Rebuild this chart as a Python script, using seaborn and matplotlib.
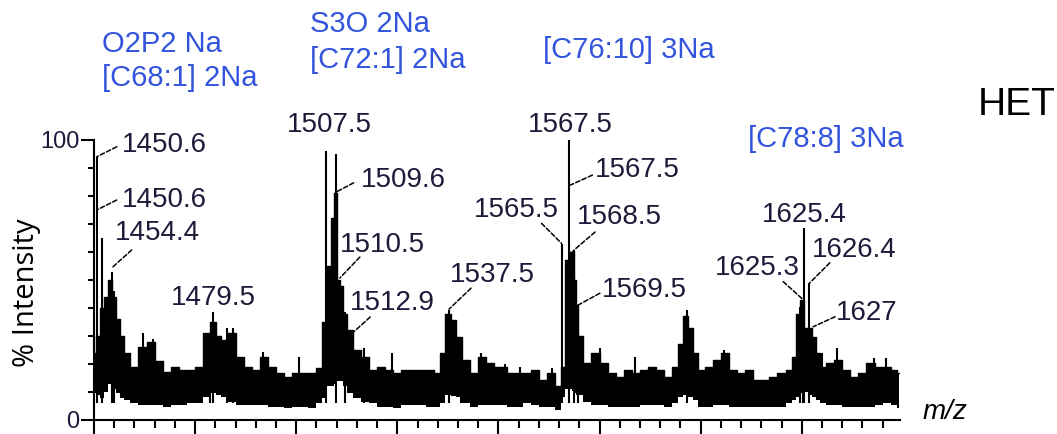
import numpy as np
import matplotlib
matplotlib.use("Agg")
import matplotlib.pyplot as plt
import seaborn as sns

# spectrum envelope (% intensity)
mz = [1450.0, 1451.0, 1452.0, 1453.0, 1454.0, 1455.0, 1456.0, 1457.0, 1458.0, 1460.0,
      1462.0, 1464.0, 1466.0, 1468.0, 1470.0, 1472.0, 1474.0, 1476.0, 1478.0, 1479.5,
      1481.0, 1482.0, 1484.0, 1486.0, 1488.0, 1490.0, 1492.0, 1494.0, 1496.0, 1498.0,
      1500.0, 1502.0, 1504.0, 1506.0, 1507.0, 1508.0, 1509.0, 1509.6, 1510.5, 1511.0,
      1512.0, 1513.0, 1515.0, 1517.0, 1519.0, 1521.0, 1523.0, 1525.0, 1527.0, 1529.0,
      1531.0, 1533.0, 1535.0, 1536.0, 1537.5, 1539.0, 1540.0, 1542.0, 1544.0, 1546.0,
      1548.0, 1550.0, 1551.0, 1553.0, 1555.0, 1557.0, 1559.0, 1561.0, 1563.0, 1565.0,
      1566.0, 1567.0, 1568.0, 1568.5, 1569.0, 1569.5, 1570.0, 1572.0, 1574.0, 1576.0,
      1578.0, 1580.0, 1582.0, 1584.0, 1586.0, 1588.0, 1590.0, 1592.0, 1594.0, 1595.0,
      1596.5, 1597.5, 1598.5, 1600.0, 1602.0, 1604.0, 1606.0, 1608.0, 1610.0, 1612.0,
      1614.0, 1616.0, 1618.0, 1620.0, 1622.0, 1623.0, 1624.0, 1625.0, 1626.0, 1627.0,
      1628.0, 1629.0, 1630.0, 1632.0, 1634.0, 1636.0, 1638.0, 1640.0, 1642.0, 1644.0,
      1646.0, 1648.0, 1649.0]
upper = [24, 30, 40, 44, 50, 44, 36, 30, 24, 19,
         26, 28, 21, 17, 19, 18, 18, 19, 31, 35,
         30, 28.6, 31, 22.6, 19, 18, 22.6, 19, 16.7, 15.5,
         16.7, 16.7, 16.7, 18.5, 35, 55, 72, 81, 50, 48,
         38, 32, 25, 22.6, 18, 19, 18, 16.7, 18, 18,
         18, 18, 16.7, 24, 38, 35.7, 29.8, 21.4, 16.7, 22.6,
         20.2, 19, 19, 16.7, 16.7, 16.7, 18, 14.3, 16.7, 12,
         19, 57, 60, 60.5, 50, 41, 30, 20.2, 23.8, 20.2,
         16.7, 15.5, 18, 16.7, 18, 19, 18, 15.5, 19, 27,
         37, 33, 23.8, 17.9, 19, 21.4, 23.8, 17.9, 16.7, 17.9,
         14.3, 14.3, 15.5, 16.7, 17.9, 22.6, 38, 43, 33, 33,
         29.8, 23.8, 19, 20.2, 21.4, 17.9, 15.5, 16.7, 20.2, 19,
         19, 17.9, 16.7]
lower = [9.5, 9, 8, 10, 13, 11, 9.5, 8, 7, 6,
         5.4, 5.4, 5.4, 4.8, 5.4, 5.4, 6, 6, 8.3, 9.5,
         9, 8.3, 6.5, 5.4, 5.4, 5.4, 5.4, 4.8, 4.8, 4.2,
         4.8, 4.8, 4.2, 6, 8, 12, 12, 13, 14, 14,
         12, 9.5, 7.7, 6.5, 6, 4.8, 4.8, 4.2, 5.4, 5.4,
         5.4, 4.8, 4.8, 6, 9, 8.5, 8.3, 6, 4.8, 5.4,
         5.4, 5.4, 5.4, 4.8, 4.8, 6, 5.4, 4.8, 4.8, 3.6,
         8.3, 11, 11, 10.5, 9.5, 9, 8.9, 6.5, 5.4, 5.4,
         4.8, 4.8, 4.8, 4.8, 5.4, 5.4, 5.4, 4.8, 6, 8.3,
         8.9, 8.3, 7.1, 4.8, 4.8, 5.4, 5.4, 4.8, 4.8, 4.8,
         4.8, 4.8, 4.8, 4.8, 6, 7.1, 8.3, 9.5, 10, 9,
         8.3, 7.1, 6, 5.4, 5.4, 4.8, 4.8, 4.8, 4.8, 5.4,
         6, 5.4, 4.2]

# thin spikes
stick_mz = [1450.67, 1452.0, 1454.4, 1455.0, 1462.2, 1464.5, 1478.6, 1479.4, 1482.8, 1484.4,
            1491.7, 1500.75, 1507.36, 1509.83, 1512.0, 1516.8, 1523.7, 1537.7, 1540.8, 1545.8,
            1551.7, 1555.45, 1563.3, 1565.6, 1567.5, 1568.7, 1569.65, 1575.1, 1583.75, 1596.7,
            1605.9, 1624.5, 1625.35, 1625.6, 1626.8, 1630.0, 1633.7, 1642.9, 1645.8]
stick_height = [94, 65, 53, 46, 31, 29, 31, 38.7, 33, 32.7,
                24.4, 22.6, 96, 95, 38.7, 25.6, 23.8, 39.3, 28.6, 23.8,
                20, 19, 18.5, 63, 100, 60.7, 41, 25.6, 22.6, 39.3,
                25, 40.5, 43, 68.5, 48.8, 23.8, 25.6, 22, 22]

# peak labels: text, m/z and height of the point they mark
peak_text = ["1450.6", "1450.6", "1454.4", "1479.5", "1507.5", "1509.6", "1510.5",
             "1512.9", "1537.5", "1565.5", "1567.5", "1567.5", "1568.5", "1569.5",
             "1625.4", "1625.3", "1626.4", "1627"]
peak_mz = [1450.67, 1450.67, 1454.38, 1479.4, 1507.36, 1510.0, 1510.8,
           1513.1, 1537.8, 1565.6, 1567.5, 1567.8, 1568.7, 1569.65,
           1625.6, 1625.35, 1627.0, 1627.8]
peak_pct = [94, 75, 54.3, 38.7, 96, 81.5, 50.7,
            30, 39.6, 63.1, 100, 83.9, 60.7, 41,
            68.5, 43, 49, 33.3]

# layout of the labels (pixels): leader line end, text offset, alignment
lead = [(20, 10), (20, 10), (20, 18), None, None, (17, 9), (20, 21),
        (21, 19), (22, 21), (-20, 20), None, (22, 10), (21, 18), (22, 12),
        None, (-20, 18), (20, 20), (22, 10)]
text_off = [(25, 12), (25, 10), (3, 35), (0, 14), (3, 26), (24, 12), (0, 33),
            (1, 33), (1, 34), (-3, 33), (1, 15), (24, 15), (3, 33), (24, 15),
            (0, 13), (-3, 32), (2, 33), (23, 14)]
text_ha = ["left", "left", "left", "center", "center", "left", "left",
           "left", "left", "right", "center", "left", "left", "left",
           "center", "right", "left", "left"]

species = ["O2P2 Na", "[C68:1] 2Na", "S3O 2Na", "[C72:1] 2Na", "[C76:10] 3Na", "[C78:8] 3Na"]
species_xy = [(102, 44), (102, 78), (310, 24), (310, 60), (543, 50), (748, 139)]

sns.set_theme(style="white")
plt.rcParams['font.family'] = ['Liberation Sans', 'DejaVu Sans']

W, H = 1057, 434
fig = plt.figure(figsize=(W / 100, H / 100), dpi=100)
ax = fig.add_axes([94 / W, 14 / H, (900 - 94) / W, 280 / H])

ax.fill_between(mz, lower, upper, step="mid", color="black", lw=0)
sns.lineplot(x=mz, y=upper, drawstyle="steps-mid", color="black", lw=1, ax=ax)
ax.vlines(stick_mz, 6, stick_height, color="black", lw=1.5)

lab_col = "#1c1c3a"
for i, t in enumerate(peak_text):
    x0, y0 = peak_mz[i], peak_pct[i]
    if lead[i] is not None:
        ax.annotate("", xy=(x0, y0), xytext=lead[i], textcoords="offset pixels",
                    arrowprops=dict(arrowstyle="-", color="black", lw=1.1,
                                    linestyle=(0, (3, 1.5)), shrinkA=0, shrinkB=0))
    ax.annotate(t, xy=(x0, y0), xytext=text_off[i], textcoords="offset pixels",
                ha=text_ha[i], va="center", fontsize=20, color=lab_col,
                annotation_clip=False)

ax.set_xlim(1450, 1649.3)
ax.set_ylim(0, 100)
ax.set_xticks(np.arange(1450, 1626, 25))
ax.set_xticks(np.arange(1450, 1649, 5), minor=True)
ax.set_xticklabels([])
ax.set_yticks([0, 100])
ax.set_yticklabels(["0", "100"], color=lab_col, fontsize=17)
ax.set_yticks(np.arange(0, 101, 10), minor=True)
ax.tick_params(axis="x", which="major", direction="out", length=10, width=1.5, color="black", bottom=True)
ax.tick_params(axis="x", which="minor", direction="out", length=5.8, width=1.5, color="black", bottom=True)
ax.tick_params(axis="y", which="major", direction="out", length=9.4, width=1.5, color="black", left=True, pad=1)
ax.tick_params(axis="y", which="minor", direction="out", length=4.3, width=1.5, color="black", left=True)
for s in ["top", "right"]:
    ax.spines[s].set_visible(False)
for s in ["left", "bottom"]:
    ax.spines[s].set_color("black")
    ax.spines[s].set_linewidth(1.5)
ax.set_xlabel("")
ax.set_ylabel("")

for t, (px, py) in zip(species, species_xy):
    fig.text(px / W, 1 - py / H, t, color="#3355dd", fontsize=21, ha="left", va="center")

fig.text(978 / W, 1 - 105 / H, "HET", color="black", fontsize=28, ha="left", va="center")
fig.text(923 / W, 1 - 419 / H, "m/z", color="black", fontsize=20, style="italic",
         ha="left", va="baseline")
fig.text(27 / W, 1 - 293 / H, "% Intensity", color="black", fontsize=21, rotation=90,
         ha="center", va="center", family=["Open Sans", "DejaVu Sans"])

fig.savefig("out.png", dpi=100)
